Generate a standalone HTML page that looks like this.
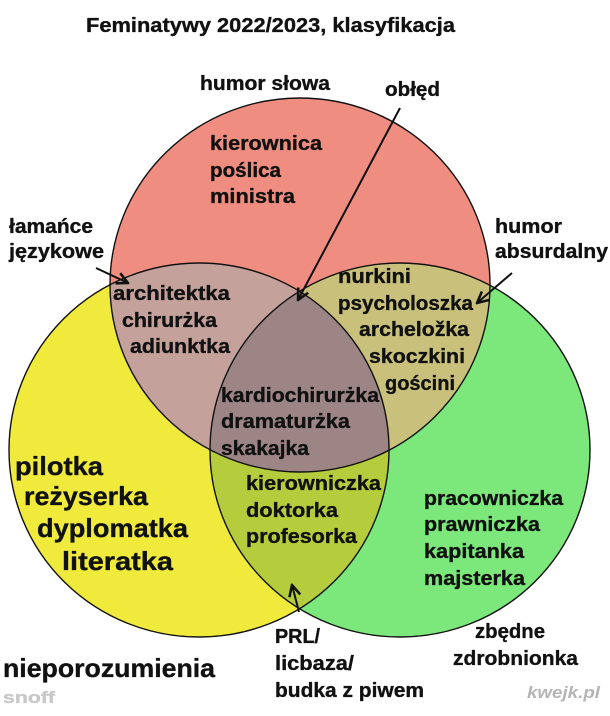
<!DOCTYPE html>
<html><head><meta charset="utf-8"><style>
html,body{margin:0;padding:0;background:#fff;}
svg{display:block;}
text{font-family:"Liberation Sans",sans-serif;font-weight:bold;fill:#111;stroke:#111;stroke-width:0.35;}
</style></head><body>
<svg width="610" height="716" viewBox="0 0 610 716" xmlns="http://www.w3.org/2000/svg">
<defs>
<clipPath id="cr"><ellipse cx="300" cy="285" rx="190" ry="187"/></clipPath>
<clipPath id="cy"><ellipse cx="199" cy="450" rx="190" ry="187"/></clipPath>
<clipPath id="cg"><ellipse cx="400" cy="450" rx="190" ry="187"/></clipPath>
<marker id="ah" viewBox="0 0 10 10" refX="9" refY="5" markerWidth="7" markerHeight="7" orient="auto"><path d="M1 1 L9 5 L1 9" fill="none" stroke="#111" stroke-width="1.8"/></marker>
</defs>
<rect width="610" height="716" fill="#fff"/>
<ellipse cx="300" cy="285" rx="190" ry="187" fill="#ef8e80"/>
<ellipse cx="199" cy="450" rx="190" ry="187" fill="#f0ea3c"/>
<ellipse cx="400" cy="450" rx="190" ry="187" fill="#7ce77b"/>
<ellipse cx="199" cy="450" rx="190" ry="187" fill="#c4a19b" clip-path="url(#cr)"/>
<ellipse cx="400" cy="450" rx="190" ry="187" fill="#c8c07b" clip-path="url(#cr)"/>
<ellipse cx="400" cy="450" rx="190" ry="187" fill="#b5cc3c" clip-path="url(#cy)"/>
<g clip-path="url(#cr)"><ellipse cx="400" cy="450" rx="190" ry="187" fill="#9c8584" clip-path="url(#cy)"/></g>
<g fill="none" stroke="#111" stroke-width="1.4">
<ellipse cx="300" cy="285" rx="190" ry="187"/>
<ellipse cx="199" cy="450" rx="190" ry="187"/>
<ellipse cx="400" cy="450" rx="190" ry="187"/>
</g>
<g stroke="#111" stroke-width="2" fill="none" marker-end="url(#ah)">
<line x1="400" y1="108" x2="298" y2="300"/>
<line x1="96" y1="268" x2="128" y2="283"/>
<line x1="512" y1="273" x2="477" y2="303"/>
<line x1="299" y1="612" x2="292" y2="585"/>
</g>
<g font-size="20">
<text x="86" y="32" textLength="369" lengthAdjust="spacingAndGlyphs">Feminatywy 2022/2023, klasyfikacja</text>
<text x="200" y="90" textLength="130" lengthAdjust="spacingAndGlyphs">humor słowa</text>
<text x="385" y="96" textLength="55" lengthAdjust="spacingAndGlyphs">obłęd</text>
<text x="210" y="150" textLength="112" lengthAdjust="spacingAndGlyphs">kierownica</text>
<text x="210" y="177" textLength="71" lengthAdjust="spacingAndGlyphs">poślica</text>
<text x="210" y="203" textLength="85" lengthAdjust="spacingAndGlyphs">ministra</text>
<text x="9" y="233" textLength="84" lengthAdjust="spacingAndGlyphs">łamańce</text>
<text x="9" y="258" textLength="95" lengthAdjust="spacingAndGlyphs">językowe</text>
<text x="495" y="233" textLength="67" lengthAdjust="spacingAndGlyphs">humor</text>
<text x="495" y="258" textLength="113" lengthAdjust="spacingAndGlyphs">absurdalny</text>
<text x="113" y="300" textLength="117" lengthAdjust="spacingAndGlyphs">architektka</text>
<text x="122" y="327" textLength="95" lengthAdjust="spacingAndGlyphs">chirurżka</text>
<text x="130" y="353" textLength="100" lengthAdjust="spacingAndGlyphs">adiunktka</text>
<text x="338" y="283" textLength="73" lengthAdjust="spacingAndGlyphs">nurkini</text>
<text x="338" y="310" textLength="135" lengthAdjust="spacingAndGlyphs">psycholoszka</text>
<text x="359" y="336" textLength="110" lengthAdjust="spacingAndGlyphs">archeložka</text>
<text x="369" y="363" textLength="96" lengthAdjust="spacingAndGlyphs">skoczkini</text>
<text x="385" y="390" textLength="70" lengthAdjust="spacingAndGlyphs">gościni</text>
<text x="221" y="402" textLength="158" lengthAdjust="spacingAndGlyphs">kardiochirurżka</text>
<text x="221" y="428" textLength="129" lengthAdjust="spacingAndGlyphs">dramaturżka</text>
<text x="221" y="455" textLength="88" lengthAdjust="spacingAndGlyphs">skakajka</text>
<text x="246" y="490" textLength="135" lengthAdjust="spacingAndGlyphs">kierowniczka</text>
<text x="246" y="517" textLength="92" lengthAdjust="spacingAndGlyphs">doktorka</text>
<text x="246" y="543" textLength="111" lengthAdjust="spacingAndGlyphs">profesorka</text>
<text x="424" y="505" textLength="139" lengthAdjust="spacingAndGlyphs">pracowniczka</text>
<text x="424" y="531" textLength="116" lengthAdjust="spacingAndGlyphs">prawniczka</text>
<text x="424" y="558" textLength="100" lengthAdjust="spacingAndGlyphs">kapitanka</text>
<text x="424" y="585" textLength="101" lengthAdjust="spacingAndGlyphs">majsterka</text>
<text x="275" y="643" textLength="45" lengthAdjust="spacingAndGlyphs">PRL/</text>
<text x="275" y="670" textLength="79" lengthAdjust="spacingAndGlyphs">licbaza/</text>
<text x="275" y="697" textLength="149" lengthAdjust="spacingAndGlyphs">budka z piwem</text>
<text x="475" y="638" textLength="70" lengthAdjust="spacingAndGlyphs">zbędne</text>
<text x="453" y="665" textLength="125" lengthAdjust="spacingAndGlyphs">zdrobnionka</text>
</g>
<g font-size="26">
<text x="15" y="475" textLength="88" lengthAdjust="spacingAndGlyphs">pilotka</text>
<text x="24" y="505" textLength="124" lengthAdjust="spacingAndGlyphs">reżyserka</text>
<text x="37" y="537" textLength="151" lengthAdjust="spacingAndGlyphs">dyplomatka</text>
<text x="62" y="570" textLength="111" lengthAdjust="spacingAndGlyphs">literatka</text>
<text x="3" y="677" textLength="212" lengthAdjust="spacingAndGlyphs">nieporozumienia</text>
</g>
<text x="3" y="703" font-size="17" textLength="52" lengthAdjust="spacingAndGlyphs" style="fill:#c8c8c8;stroke:#c8c8c8">snoff</text>
<text x="527" y="698" font-size="17" textLength="73" lengthAdjust="spacingAndGlyphs" style="fill:#b5b5b5;stroke:none;font-style:italic">kwejk.pl</text>
</svg>
</body></html>
